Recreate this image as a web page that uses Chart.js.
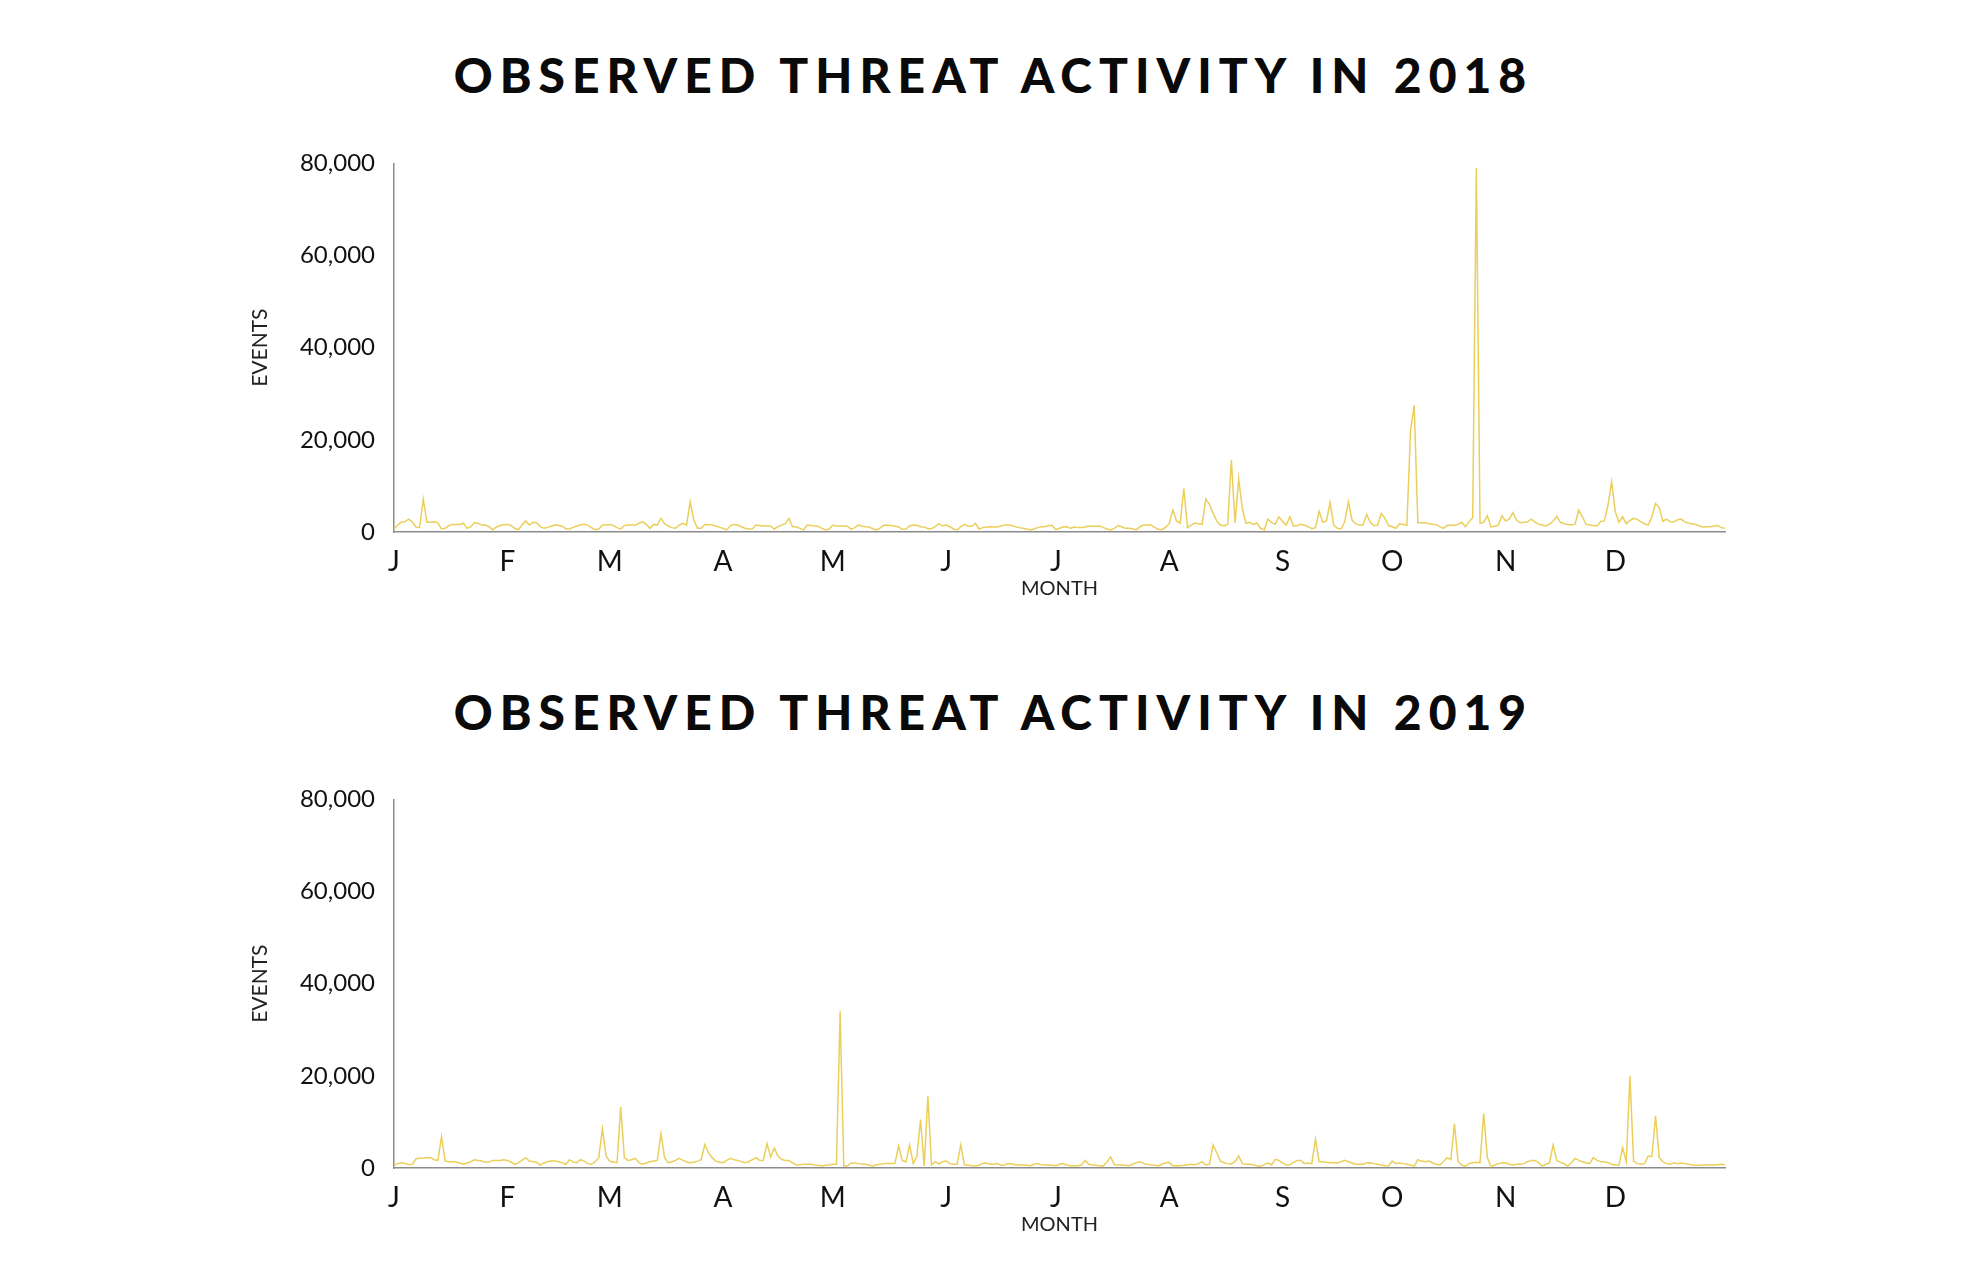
<!DOCTYPE html>
<html>
<head>
<meta charset="utf-8">
<title>Observed Threat Activity</title>
<script src="https://cdn.jsdelivr.net/npm/chart.js@4.4.1/dist/chart.umd.min.js"></script>
<style>
  html, body { margin: 0; padding: 0; background: #fff; }
  #page { position: relative; width: 1980px; height: 1280px; overflow: hidden; }
  .title {
    position: absolute; left: 0; width: 1980px; box-sizing: border-box;
    text-align: center; padding-left: 7px;
    font-family: 'Lato', sans-serif; font-weight: 900;
    font-size: 48px; line-height: 48px; letter-spacing: 7px; color: #0a0a0a;
  }
  canvas { position: absolute; left: 0; }
</style>
</head>
<body>
<div id="page">
  <div class="title" style="top:51px">OBSERVED THREAT ACTIVITY IN 2018</div>
  <canvas id="chart2018" width="1980" height="480" style="top:130px"></canvas>
  <div class="title" style="top:688px">OBSERVED THREAT ACTIVITY IN 2019</div>
  <canvas id="chart2019" width="1980" height="480" style="top:766px"></canvas>
</div>

<script>
// x axis: day of year, labelled at the first day of each month
const monthStarts = [0, 31, 59, 90, 120, 151, 181, 212, 243, 273, 304, 334];
const monthLetters = ['J', 'F', 'M', 'A', 'M', 'J', 'J', 'A', 'S', 'O', 'N', 'D'];
const yTicks = [0, 20000, 40000, 60000, 80000];

// daily events (365 days each)
const events2018 = [
  650, 1500, 2150, 2200, 2800, 2200, 1100, 1000, 7100, 2100,
  2100, 2200, 2000, 650, 800, 1400, 1650, 1650, 1650, 1900,
  800, 1150, 2000, 1900, 1500, 1500, 1150, 450, 1100, 1400,
  1600, 1650, 1400, 800, 500, 1500, 2400, 1500, 2100, 2000,
  1150, 800, 1000, 1250, 1500, 1450, 1250, 720, 650, 1000,
  1300, 1500, 1700, 1500, 950, 500, 650, 1500, 1500, 1650,
  1400, 950, 650, 1400, 1500, 1500, 1450, 1900, 2200, 1650,
  800, 1650, 1500, 2950, 1800, 1300, 950, 800, 1500, 1900,
  1500, 6550, 2600, 800, 800, 1650, 1600, 1500, 1300, 1000,
  800, 450, 1400, 1650, 1500, 1150, 800, 650, 650, 1500,
  1400, 1300, 1300, 1250, 650, 1150, 1500, 1800, 2950, 1150,
  1150, 800, 450, 1500, 1400, 1300, 1250, 800, 450, 650,
  1500, 1250, 1300, 1300, 1250, 580, 950, 1500, 1250, 1150,
  1100, 650, 450, 870, 1500, 1450, 1400, 1250, 1100, 580,
  650, 1300, 1500, 1450, 1150, 1100, 720, 720, 1150, 1800,
  1300, 1500, 1150, 650, 430, 1150, 1650, 1250, 1250, 1900,
  650, 950, 1100, 1150, 1100, 1100, 1300, 1500, 1500, 1400,
  1150, 950, 800, 650, 450, 650, 950, 1150, 1150, 1400,
  1400, 500, 800, 1100, 1150, 800, 1100, 950, 950, 1100,
  1300, 1250, 1250, 1300, 950, 650, 450, 800, 1400, 1150,
  800, 800, 720, 450, 1150, 1500, 1500, 1500, 1000, 580,
  500, 1000, 1800, 4750, 2400, 1900, 9450, 950, 1500, 1950,
  1800, 1650, 7150, 6000, 4050, 2400, 1500, 1300, 1700, 15600,
  1900, 11600, 5100, 1900, 2100, 1650, 1950, 800, 500, 2800,
  2100, 1650, 3300, 2300, 1500, 3300, 1250, 1400, 1650, 1450,
  1150, 720, 950, 4500, 2100, 2400, 6400, 1500, 800, 650,
  2200, 6550, 2600, 1800, 1500, 1500, 3800, 2100, 1400, 1450,
  4050, 2950, 1400, 1150, 800, 1800, 1650, 1500, 22000, 27500,
  2000, 2000, 2000, 1800, 1700, 1600, 1150, 800, 1400, 1500,
  1400, 1650, 2100, 1150, 2200, 3100, 79000, 1900, 2100, 3500,
  1100, 1250, 1500, 3500, 2400, 2800, 4200, 2600, 2000, 2100,
  2200, 2800, 2200, 1700, 1500, 1300, 1650, 2400, 3400, 2100,
  1800, 1650, 1500, 1700, 4750, 3300, 1650, 1500, 1400, 1300,
  2300, 2400, 5850, 10900, 4400, 2100, 3300, 1800, 2500, 2950,
  2750, 2200, 1800, 1500, 3300, 6200, 5300, 2300, 2800, 2200,
  2150, 2650, 2800, 2200, 1950, 1800, 1650, 1300, 1100, 1150,
  1150, 1300, 1400, 950, 800
];

const events2019 = [
  650, 950, 1150, 1000, 700, 800, 2000, 2100, 2150, 2250,
  2250, 1800, 1650, 6800, 1500, 1370, 1370, 1300, 1100, 800,
  1100, 1370, 1800, 1650, 1500, 1230, 1300, 1650, 1650, 1650,
  1800, 1650, 1300, 800, 1100, 1650, 2250, 1500, 1370, 1230,
  650, 1100, 1370, 1580, 1500, 1370, 1150, 800, 1800, 1300,
  1150, 1800, 1500, 950, 800, 1370, 2250, 8500, 2600, 1450,
  1300, 1150, 13300, 2250, 1650, 1800, 2100, 1150, 800, 1100,
  1370, 1500, 1650, 7500, 2250, 1150, 1370, 1650, 2100, 1650,
  1300, 1150, 1230, 1500, 1800, 5100, 3300, 2250, 1500, 1230,
  1150, 1650, 2100, 1800, 1650, 1370, 1150, 1370, 1800, 2250,
  1650, 1650, 5300, 2400, 4300, 2600, 1880, 1650, 1650, 1100,
  650, 700, 800, 800, 800, 650, 580, 430, 580, 650,
  800, 800, 34000, 430, 430, 1100, 1100, 950, 870, 800,
  580, 430, 720, 800, 950, 1000, 950, 1000, 4800, 1650,
  1300, 5000, 950, 2600, 10500, 430, 15600, 650, 1370, 870,
  1370, 1500, 950, 800, 800, 5000, 650, 650, 500, 430,
  580, 1000, 1100, 800, 800, 950, 580, 650, 950, 870,
  650, 650, 650, 580, 500, 800, 950, 720, 650, 650,
  580, 500, 800, 950, 650, 500, 500, 500, 650, 1650,
  800, 650, 580, 500, 430, 1370, 2400, 720, 650, 650,
  580, 500, 800, 1150, 1370, 1000, 800, 650, 580, 430,
  800, 1100, 1230, 500, 500, 500, 580, 720, 800, 720,
  950, 1370, 650, 800, 5000, 3300, 1500, 1150, 950, 870,
  1370, 2600, 950, 800, 800, 720, 430, 360, 720, 1100,
  650, 1880, 1650, 1100, 650, 720, 1230, 1650, 1650, 950,
  1100, 950, 6200, 1370, 1370, 1230, 1150, 1150, 1100, 1370,
  1650, 1370, 1100, 800, 800, 800, 1100, 1150, 950, 800,
  650, 500, 430, 1500, 950, 1150, 950, 800, 650, 430,
  1800, 1500, 1370, 1500, 1150, 800, 650, 1370, 2250, 1800,
  9600, 1370, 650, 360, 950, 1150, 1230, 1150, 11800, 2250,
  290, 650, 950, 1100, 1150, 800, 650, 800, 800, 950,
  1370, 1650, 1650, 1150, 430, 800, 1100, 5000, 1650, 1230,
  950, 430, 1150, 2100, 1650, 1370, 1150, 950, 2250, 1650,
  1370, 1370, 1150, 800, 650, 650, 4400, 1370, 20000, 1500,
  950, 800, 950, 2600, 2500, 11300, 2250, 1370, 950, 800,
  1150, 950, 1100, 950, 800, 650, 580, 580, 650, 650,
  650, 650, 720, 800, 720
];

const lineColor = '#EBCF5B';
const axisColor = '#8c8c8c';

function drawYear(id, values) {
  const ctx = document.getElementById(id).getContext('2d');

  return new Chart(ctx, {
    type: 'line',
    data: {
      datasets: [{
        data: values.map((v, i) => ({ x: i, y: v })),
        borderColor: lineColor,
        borderWidth: 1.5,
        pointRadius: 0,
        tension: 0,
        fill: false,
      }],
    },
    options: {
      responsive: false,
      animation: false,
      layout: { padding: { top: 32, left: 244, right: 255, bottom: 8 } },
      plugins: {
        legend: { display: false },
        tooltip: { enabled: false },
      },
      scales: {
        x: {
          type: 'linear',
          min: 0,
          max: 364,
          afterBuildTicks: (axis) => { axis.ticks = monthStarts.map(v => ({ value: v })); },
          afterFit: (axis) => { axis.height = 70; },
          grid: { display: false, drawTicks: false },
          border: { display: true, color: axisColor, width: 1.5 },
          ticks: {
            autoSkip: false,
            maxRotation: 0,
            padding: 13,
            color: '#111',
            font: { family: 'Lato', size: 28 },
            callback: (v) => monthLetters[monthStarts.indexOf(v)],
          },
          title: {
            display: true,
            text: 'MONTH',
            color: '#222',
            font: { family: 'Lato', size: 20 },
            padding: { top: 0, bottom: 1 },
          },
        },
        y: {
          min: 0,
          max: 80000,
          afterBuildTicks: (axis) => { axis.ticks = yTicks.map(v => ({ value: v })); },
          afterFit: (axis) => { axis.width = 150; },
          grid: { display: false, drawTicks: false },
          border: { display: true, color: axisColor, width: 1.5 },
          ticks: {
            padding: 19,
            color: '#111',
            font: { family: 'Lato', size: 24 },
            callback: (v) => v.toLocaleString('en-US'),
          },
          title: {
            display: true,
            text: 'EVENTS',
            color: '#222',
            font: { family: 'Lato', size: 21 },
            padding: { top: 4, bottom: 0 },
          },
        },
      },
    },
  });
}

drawYear('chart2018', events2018);
drawYear('chart2019', events2019);
</script>
</body>
</html>
